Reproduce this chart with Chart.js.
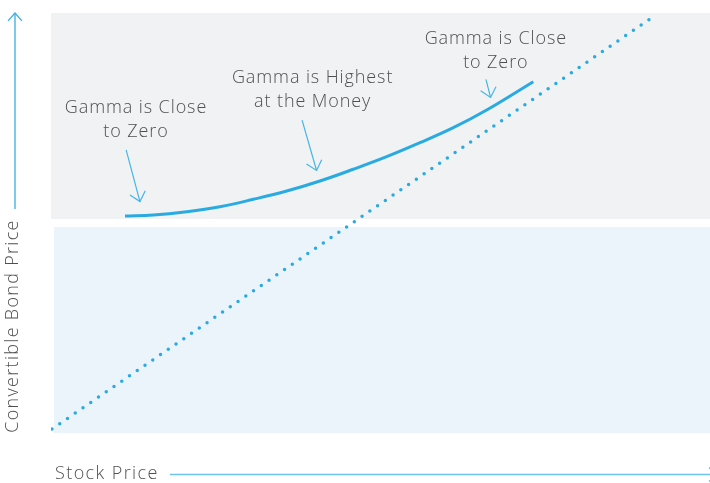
<!DOCTYPE html>
<html>
<head>
<meta charset="utf-8">
<script src="https://cdn.jsdelivr.net/npm/chart.js@4.4.0/dist/chart.umd.min.js"></script>
<style>
html, body { margin: 0; padding: 0; background: #fff; }
</style>
</head>
<body>
<canvas id="chart" width="710" height="483"></canvas>
<script>
// convertible bond price (solid curve), both axes 0..100
var stockPrice = [11.23, 15.52, 20.59, 25.64, 30.70, 35.77, 40.82, 45.87, 50.94, 55.99, 61.05, 66.11, 73.19];
var bondPrice = [51.67, 51.90, 52.69, 53.88, 55.64, 57.62, 60.00, 62.79, 65.79, 69.12, 72.69, 76.90, 83.64];

// conversion value line (dotted)
var parityX = [0.15, 90.9];
var parityY = [0.95, 98.6];

// shaded zones: bond-like (top) and equity-like (bottom)
var zoneX0 = [0, 0.46];
var zoneX1 = [100, 100];
var zoneY0 = [50.95, 0];
var zoneY1 = [100, 49.05];

// callouts
var calloutText = [["Gamma is Close", "to Zero"], ["Gamma is Highest", "at the Money"], ["Gamma is Close", "to Zero"]];
var calloutX = [12.9, 39.7, 67.5];
var calloutY = [77.4, 84.5, 93.8];
var arrowFromX = [11.4, 38.1, 66.0];
var arrowFromY = [67.4, 74.5, 84.2];
var arrowToX = [13.5, 40.3, 66.7];
var arrowToY = [55.1, 62.5, 79.9];

var xTitle = "Stock Price";
var yTitle = "Convertible Bond Price";

var BLUE = "#29abe2";
var TEXT = "#505050";
var FONT = "300 18px 'Open Sans'";

function toPoints(xs, ys) {
    return xs.map(function (x, i) { return {x: x, y: ys[i]}; });
}

function arrowHead(ctx, x0, y0, x1, y1, len, spread) {
    var a = Math.atan2(y1 - y0, x1 - x0);
    ctx.beginPath();
    ctx.moveTo(x1 - len * Math.cos(a - spread), y1 - len * Math.sin(a - spread));
    ctx.lineTo(x1, y1);
    ctx.lineTo(x1 - len * Math.cos(a + spread), y1 - len * Math.sin(a + spread));
    ctx.stroke();
}

var zonesPlugin = {
    id: "zones",
    beforeDatasetsDraw: function (chart) {
        var ctx = chart.ctx, xs = chart.scales.x, ys = chart.scales.y;
        var colors = ["#f1f2f4", "#ebf4fb"];
        ctx.save();
        for (var i = 0; i < zoneX0.length; i++) {
            var l = xs.getPixelForValue(zoneX0[i]), r = xs.getPixelForValue(zoneX1[i]);
            var t = ys.getPixelForValue(zoneY1[i]), b = ys.getPixelForValue(zoneY0[i]);
            ctx.fillStyle = colors[i];
            ctx.fillRect(l, t, r - l, b - t);
        }
        ctx.restore();
    }
};

var decorPlugin = {
    id: "decor",
    afterDraw: function (chart) {
        var ctx = chart.ctx, xs = chart.scales.x, ys = chart.scales.y;
        ctx.save();
        ctx.font = FONT;
        ctx.letterSpacing = "0.9px";
        ctx.fillStyle = TEXT;
        ctx.textAlign = "center";
        ctx.textBaseline = "middle";
        // callout labels
        for (var i = 0; i < calloutText.length; i++) {
            var cx = xs.getPixelForValue(calloutX[i]), cy = ys.getPixelForValue(calloutY[i]);
            calloutText[i].forEach(function (line, k) {
                ctx.fillText(line, cx, cy + k * 24);
            });
        }
        // callout arrows
        ctx.strokeStyle = "#45b5e6";
        ctx.lineWidth = 1.2;
        for (var j = 0; j < arrowFromX.length; j++) {
            var x0 = xs.getPixelForValue(arrowFromX[j]), y0 = ys.getPixelForValue(arrowFromY[j]);
            var x1 = xs.getPixelForValue(arrowToX[j]), y1 = ys.getPixelForValue(arrowToY[j]);
            ctx.beginPath();
            ctx.moveTo(x0, y0);
            ctx.lineTo(x1, y1);
            ctx.stroke();
            arrowHead(ctx, x0, y0, x1, y1, 12, 0.72);
        }
        // y axis arrow + title
        ctx.strokeStyle = "#3aaee2";
        ctx.lineWidth = 1.3;
        ctx.beginPath();
        ctx.moveTo(15, 209);
        ctx.lineTo(15, 13);
        ctx.stroke();
        arrowHead(ctx, 15, 209, 15, 13, 10.5, 0.72);
        ctx.save();
        ctx.letterSpacing = "1.3px";
        ctx.translate(13, 326);
        ctx.rotate(-Math.PI / 2);
        ctx.fillText(yTitle, 0, 0);
        ctx.restore();
        // x axis title + arrow
        ctx.textAlign = "left";
        ctx.letterSpacing = "1.4px";
        ctx.fillText(xTitle, 55, 474);
        ctx.strokeStyle = "#6cc4ec";
        ctx.lineWidth = 1.5;
        ctx.beginPath();
        ctx.moveTo(170, 474.5);
        ctx.lineTo(716, 474.5);
        ctx.stroke();
        arrowHead(ctx, 170, 474.5, 717, 474.5, 10.5, 0.72);
        ctx.restore();
    }
};

new Chart(document.getElementById("chart"), {
    type: "scatter",
    data: {
        datasets: [
            {
                data: toPoints(parityX, parityY),
                showLine: true,
                borderColor: BLUE,
                borderWidth: 3.5,
                borderDash: [0, 9.4],
                borderCapStyle: "round",
                pointRadius: 0
            },
            {
                data: toPoints(stockPrice, bondPrice),
                showLine: true,
                borderColor: BLUE,
                borderWidth: 3,
                tension: 0.4,
                pointRadius: 0
            }
        ]
    },
    options: {
        responsive: false,
        animation: false,
        devicePixelRatio: 1,
        layout: {
            padding: {left: 51, right: 0, top: 13, bottom: 50}
        },
        plugins: {
            legend: {display: false},
            tooltip: {enabled: false}
        },
        scales: {
            x: {type: "linear", min: 0, max: 100, display: false},
            y: {type: "linear", min: 0, max: 100, display: false}
        }
    },
    plugins: [zonesPlugin, decorPlugin]
});
</script>
</body>
</html>
